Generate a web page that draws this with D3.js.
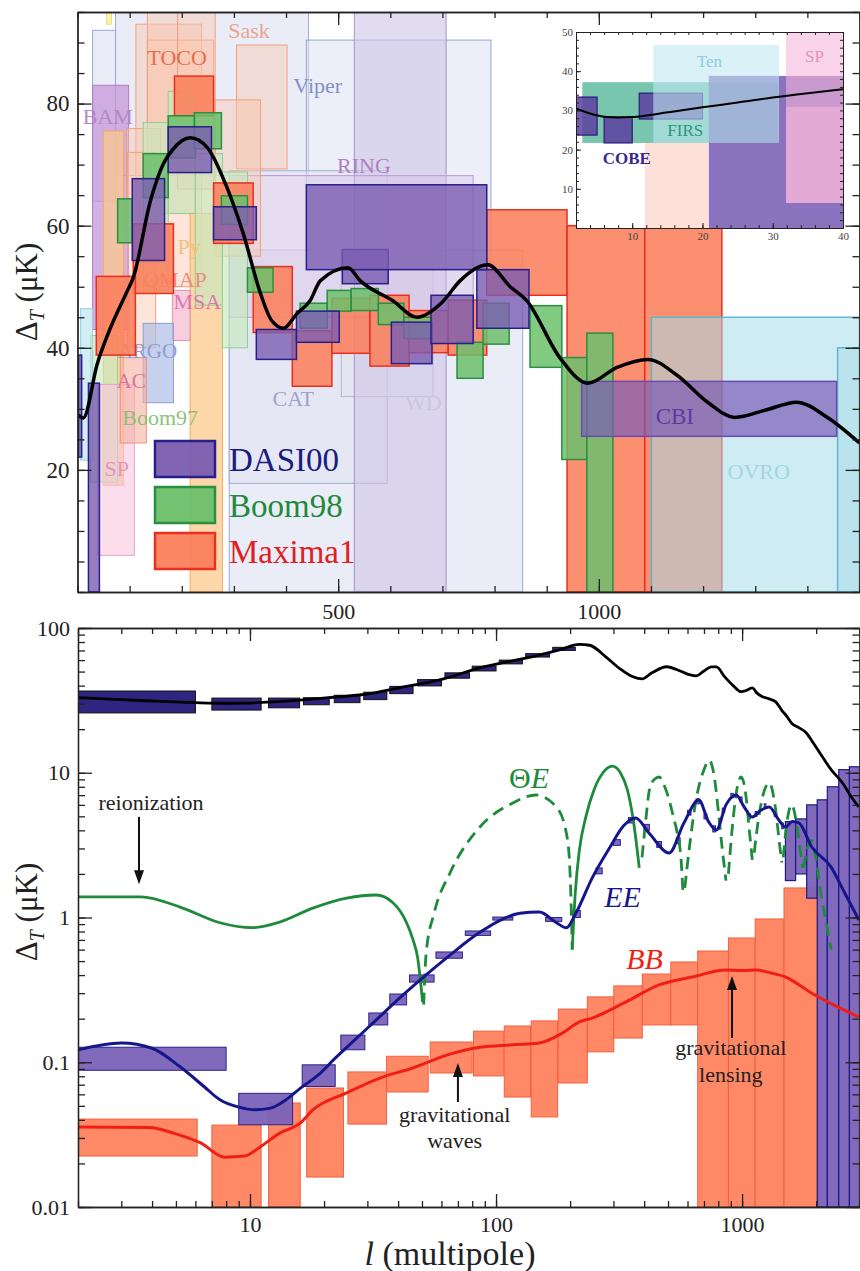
<!DOCTYPE html>
<html>
<head>
<meta charset="utf-8">
<script src="https://cdn.jsdelivr.net/npm/d3@7"></script>
<style>
  body { margin: 0; background: #fff; }
  svg { display: block; }
</style>
</head>
<body>
<svg id="chart" width="860" height="1271"></svg>
<script>
// ---------------- DONNÉES : panneau du haut (l linéaire, ΔT en µK) ----------------

// courbe théorique noire [l, ΔT]
let topCurve = [[2,29],[11,28.5],[38,37.4],[61,42.8],[96,49.4],[107,51.5],[140,64.1],[165,70.2],[184,72.6],
  [216,74.4],[249,72.8],[287,66.2],[318,58.7],[351,48.9],[372,44.5],[395,43.2],[421,45.6],[446,47.7],[466,51],
  [519,53.1],[542,51],[605,47.7],[651,45],[700,47.5],[734,51],[787,53.6],[830,50],[862,47.7],[925,38.4],
  [979,34.2],[1035,36.8],[1094,38.1],[1150,35.5],[1210,31],[1261,28.6],[1320,29.8],[1379,31.1],[1440,28.5],[1500,24.4]];

// boîtes d'erreur [l0, l1, ΔT haut, ΔT bas]
let dasi00Boxes = [[105,167,67.7,54.3],[174,257,76.2,68.7],[261,343,63.1,57.7],[343,420,43,38.1],[420,502,46,40.9],
  [508,596,56.1,50.5],[602,680,44.2,37.4],[678,759,48.6,40.7],[766,866,52.8,43.2],[439,785,66.7,52.8],
  [21,42,34.2,0],[2,8,38.8,22.1]];
let boom98Boxes = [[77,105,64.4,57.2],[126,174,71.8,64.6],[174,226,78,71.1],[224,276,78.5,72.6],[276,326,64.9,60.2],
  [326,375,53.1,49.1],[427,479,47.3,43.2],[479,525,49.4,46],[525,577,49.7,46.1],[577,626,47.3,43.8],
  [626,680,45,41.5],[728,778,40.9,35],[778,828,47.3,40.6],[868,929,46.9,36.8],[929,977,38.4,21.7],[977,1027,42.4,0]];
let maxima1Boxes = [[186,261,84.5,78],[107,184,60.3,48.9],[36,111,51.7,38.8],[261,337,67,57.1],[337,412,53.3,42.5],
  [412,488,42.8,33.7],[488,561,48.1,39.1],[561,636,48.6,37],[636,711,46.1,39.2],[711,785,47.8,38.8],
  [785,939,62.6,48.6],[939,1088,60,0],[1088,1236,60,0]];
let cbiBoxes = [[967,1456,34.5,25.5]];
let ovroBoxes = [[1101,1500,45,0],[1458,1500,40,0]];

// autres expériences en arrière-plan [groupe, l0, l1, ΔT haut, ΔT bas]
let otherBoxes = [
  ["blue",29,73,92,64], ["blue",73,443,95,68.2], ["viper",439,793,90.4,53], ["blue",291,854,56,0],
  ["cat",291,594,69,17.8], ["wd",506,682,56,32], ["lav",531,707,95,0], ["ring",291,759,68.2,45],
  ["bam",29,98,83,43], ["peach",112,238,93,50], ["peach",134,261,90.4,62], ["peach",134,192,95,70],
  ["peach",192,264,95,66], ["peach",305,402,89.6,69.3], ["peach",264,351,80.6,55], ["peach",94,159,75.9,59.2],
  ["peach",96,150,72,40], ["orange",216,278,62,0], ["orange",50,88,75.5,17.5], ["yellow",56,65,95,93],
  ["b97",25,77,42,18], ["b97",126,174,76.9,49.4], ["b97",174,226,82,62], ["b97",226,278,71.8,47],
  ["b97",278,326,68.8,40], ["pink",38,109,34,6], ["msa",182,216,49.4,41.2], ["argo",126,184,44,31],
  ["cyan",6,29,46.4,21.6], ["mac",82,132,38.4,24.4]
];

// noms d'expériences [texte, l, ΔT]
let otherLabels = [["BAM",10,76.7],["TOCO",134,86.3],["Sask",289,90.8],["Viper",414,81.8],["RING",498,68.7],
  ["Py",192,55.4],["QMAP",126,49.9],["MSA",184,46.3],["ARGO",77,38.4],["AC",75,33.4],["SP",52,19],
  ["Boom97",86,27.4],["CAT",374,30.4],["WD",628,29.8],["OVRO",1247,18.5]];
let cbiLabel = ["CBI",1109,27.5];

let legendItems = ["DASI00","Boom98","Maxima1"];

let topXLabels = [500, 1000];
let topYLabels = [20, 40, 60, 80];

// ---------------- DONNÉES : encart (grands angles) ----------------
let insetCurve = [[2,30.5],[4,29.2],[6,28.4],[8,28.2],[10,28.3],[12,28.7],[15,29.5],[20,30.8],[25,32],[30,33.3],[35,34.4],[40,35.4]];
let insetBoxes = [
  ["peach",11.8,20.8,21.7,0], ["firs",2.9,30.7,37.2,21.7],
  ["cobe",2,5,33.4,23.7], ["cobe",6,10,28.3,21.7], ["cobe",11,20,34.4,27.8],
  ["purple",20.9,40,38.8,0], ["ten",13,30.9,46.7,21.7],
  ["sp",31.9,40,50,6.4], ["sp",31.9,40,30.9,6.4]
];
let insetLabels = [["Ten",19.2,41],["SP",34.6,42.3],["FIRS",15,23.5],["COBE",5.8,16.3]];
let insetXLabels = [10, 20, 30, 40];
let insetYLabels = [10, 20, 30, 40, 50];

// ---------------- DONNÉES : panneau du bas (log-log) ----------------
let ttCurve = [[2,33],[3,32],[4,31.3],[6,30.5],[8,30.2],[10,30.3],[13,31],[18,32.3],[23,33.5],[30,35],[40,38.5],
  [59,43.8],[86,53],[120,60],[150,65],[181,70.5],[218,77],[240,76],[280,63],[320,52],[360,46],[392,44.5],
  [430,49],[493,54],[560,50.5],[600,48],[650,46.7],[700,50.5],[750,53.8],[786,53.8],[850,46],[920,40],
  [990,36.3],[1040,37],[1100,38.6],[1150,35.5],[1210,33.5],[1280,32.5],[1370,30.9],[1450,27],[1520,24.5],
  [1590,22],[1700,20.5],[1820,18.9],[1950,16],[2120,12.9],[2300,10.5],[2560,8.5],[2750,7],[2980,5.8]];
let ttBoxes = [[2,6,36.7,25.9],[7,11.1,32.8,27.1],[11.9,15.9,32.8,28.1],[16.5,21,33,29.5],[22,28,34.3,30.5],
  [29,36,36,32],[37,46,39.5,35.2],[48,60,44,39.8],[62,78,49,45],[80,100,54.5,50.5],[103,128,60,56.5],
  [132,165,66.5,63],[170,210,73.5,70]];
let ttHighBoxes = [[1500,1650,4.6,1.8],[1650,1830,4.8,2.0],[1830,2020,6,1.36],[2020,2220,6.5,0.01],
  [2220,2470,8,0.01],[2470,2730,10.5,0.01],[2730,3000,11,0.01]];

let eeCurve = [[2,0.122],[3,0.136],[4,0.125],[5.2,0.093],[6.5,0.068],[7.55,0.055],[9,0.049],[10.5,0.047],
  [12,0.048],[14,0.055],[16,0.066],[19,0.082],[22,0.105],[26,0.137],[33,0.2],[40,0.272],[50,0.38],[65,0.55],
  [85,0.78],[107,0.98],[125,1.07],[150,1.09],[176,0.92],[193,0.85],[211,1.07],[246,1.88],[289,3.02],[330,4.3],
  [369,4.87],[420,3.8],[505,2.79],[580,4.5],[667,6.48],[730,4.6],[786,4.02],[860,6],[946,7.02],[1020,5.8],
  [1100,4.95],[1190,5.5],[1290,5.8],[1400,4.8],[1500,4.22],[1600,4.6],[1700,4.5],[1920,3.07],[2300,2.23],
  [2600,1.5],[2985,0.96]];
let eeBoxes = [[2,8,0.127,0.088],[9,14.9,0.061,0.037],[16.3,22.2,0.096,0.068],[23.4,29.3,0.154,0.122],
  [30.4,36.3,0.219,0.181],[37,43.3,0.296,0.249],[44.5,56,0.401,0.358],[57,73,0.578,0.523],[75,95,0.807,0.752],
  [97,117,1.007,0.96],[159,185,1.0,0.94],[205,220,1.12,1.0],[255,270,2.2,2.0],[300,320,3.45,3.15],
  [345,365,4.9,4.5],[400,420,4.4,4.0],[450,470,3.35,3.05],[540,560,3.55,3.25],[600,620,5.5,5.1],
  [650,670,6.6,6.1],[700,720,5.2,4.8],[760,780,4.3,3.9],[830,850,5.7,5.3],[900,920,7.2,6.7],
  [980,1000,6.8,6.3],[1060,1080,5.2,4.8],[1130,1150,5.4,5.0],[1230,1250,6.1,5.7],[1350,1370,5.4,5.0],
  [1450,1470,4.5,4.1]];

// ΘE : segments positifs (plein) et négatifs (tirets), en valeur absolue
let teSolid = [
  [[2,1.39],[3.6,1.39],[5.2,1.18],[7.55,0.92],[10.2,0.85],[13.2,0.93],[18,1.16],[24.7,1.36],[32.6,1.43],
   [38,1.27],[43.3,0.92],[46,0.7],[48,0.53],[50.3,0.26]],
  [[204,0.6],[210,1.5],[218,2.9],[232,5],[250,7.6],[272,10],[297,11.1],[320,10],[342,7.6],[362,4.6],[382,2.2]]
];
let teDashed = [
  [[50.8,0.25],[52,0.57],[56,1.07],[65,2.03],[86,4.22],[117,6.18],[145,7.02],[176,5.8],[193,3.84],[199,2.38],[202,1.2],[204,0.6]],
  [[392,2.6],[405,4.5],[420,7.6],[440,9],[460,9.35],[485,8],[505,6.5],[525,5],[545,3.84],[565,2.5],[575,1.5]],
  [[585,1.6],[610,3],[650,6.5],[700,10.5],[735,12.2],[770,9.5],[800,5.5],[830,3],[860,1.8]],
  [[880,2],[910,4],[950,7.5],[990,9.35],[1030,7.5],[1070,4],[1100,2.5]],
  [[1120,2.8],[1170,5],[1230,7.5],[1290,8.5],[1360,6],[1420,3.2],[1450,2.4]],
  [[1470,2.6],[1520,4.5],[1590,6],[1660,4.6],[1720,3],[1760,2.2]],
  [[1780,2.2],[1840,3],[1920,3.4],[2000,2.5],[2100,1.4],[2200,0.9],[2300,0.6]]
];

let bbCurve = [[2,0.0357],[3.9,0.0354],[5,0.032],[6.3,0.0277],[7.9,0.0221],[9.5,0.0225],[11,0.026],[13.2,0.0324],
  [16,0.038],[18,0.0468],[24.7,0.0614],[33.7,0.0778],[45.8,0.0912],[63,0.112],[86,0.127],[117,0.132],[150,0.136],
  [186,0.159],[218,0.19],[246,0.202],[337,0.261],[460,0.342],[627,0.388],[860,0.434],[1000,0.43],[1140,0.434],
  [1300,0.415],[1500,0.388],[1920,0.30],[2400,0.245],[2985,0.205]];
let bbBoxes = [[2,6.1,0.0405,0.0225],[7,11.1,0.0368,0.01],[11.9,16,0.0523,0.01],[17,24,0.0664,0.0161],
  [25,35.9,0.0857,0.0374],[35.9,53,0.110,0.0623],[54,80,0.138,0.0843],[81,107,0.164,0.0804],[108,138,0.178,0.0575],
  [139,178,0.193,0.0419],[179,235,0.233,0.0719],[235,301,0.283,0.118],[301,393,0.337,0.147],[393,513,0.407,0.181],
  [513,660,0.493,0.181],[660,880,0.587,0.01],[880,1130,0.722,0.01],[1130,1480,0.977,0.01],[1480,2040,1.6,0.01]];

// annotations : lignes de texte (l, ΔT de base) et flèche [l, ΔT départ, ΔT pointe]
let annotations = [
  { lines: ["reionization"], l: 3.96, T: [5.53], arrow: [3.54, 4.96, 1.70] },
  { lines: ["gravitational", "waves"], l: 67.9, T: [0.0387, 0.0256], arrow: [70, 0.0531, 0.0988] },
  { lines: ["gravitational", "lensing"], l: 900, T: [0.112, 0.0731], arrow: [910, 0.147, 0.394] }
];
let specLabels = [["ΘE", 113, 7.85], ["EE", 275, 1.18], ["BB", 338, 0.44]];

let botXLabels = [10, 100, 1000];
let botYLabels = [0.01, 0.1, 1, 10, 100];


// ---------------- STYLES ----------------
let FONT = "'Liberation Serif', 'Times New Roman', serif";

let STYLE_AUTRES = {
  blue:   { fill: "#d9dff2", stroke: "#9aaad8", op: 0.55 },
  viper:  { fill: "#dde2f3", stroke: "#93a5d6", op: 0.55 },
  cat:    { fill: "#dfe2f0", stroke: "#a4acd0", op: 0.45 },
  wd:     { fill: "#e2e2ee", stroke: "#b6b6cc", op: 0.4 },
  lav:    { fill: "#cfc4e6", stroke: "#a393cb", op: 0.6 },
  ring:   { fill: "#dac4e6", stroke: "#c09ad4", op: 0.45 },
  bam:    { fill: "#c697d8", stroke: "#b27ac8", op: 0.75 },
  peach:  { fill: "#fbc6ad", stroke: "#f2a07e", op: 0.45 },
  orange: { fill: "#fcc98c", stroke: "#f4ab5e", op: 0.75 },
  yellow: { fill: "#f7f0a0", stroke: "#e8dc70", op: 0.8 },
  b97:    { fill: "#c6eabf", stroke: "#8fcf8f", op: 0.65 },
  pink:   { fill: "#f8c6e0", stroke: "#eaa0cc", op: 0.6 },
  msa:    { fill: "#f4aec4", stroke: "#e890b0", op: 0.6 },
  argo:   { fill: "#aebde6", stroke: "#8b9dd6", op: 0.7 },
  cyan:   { fill: "#bfe6f0", stroke: "#8fd0e2", op: 0.7 },
  mac:    { fill: "#f6b0a0", stroke: "#ee9080", op: 0.6 }
};

let LABEL_COLORS = {
  BAM: "#b585c6", TOCO: "#e8684a", Sask: "#f0a088", Viper: "#7c8cc4", RING: "#b07cc0", Py: "#f0c078",
  QMAP: "#e88a80", MSA: "#e070b0", ARGO: "#8c9cd0", AC: "#d8709c", SP: "#e890c0", Boom97: "#88c070",
  CAT: "#9aa0c8", WD: "#c8c8dc", CBI: "#5a3aa0", OVRO: "#88ccdc",
  Ten: "#88d0e0", FIRS: "#2a9878", COBE: "#3a2a90"
};

let SERIES = {
  DASI00:  { fill: "#7a5cb0", stroke: "#28208a", text: "#1a1a80" },
  Boom98:  { fill: "#6cc06c", stroke: "#2a9040", text: "#1e8a3a" },
  Maxima1: { fill: "#fa7f5c", stroke: "#e83020", text: "#e02020" }
};

let STYLE_ENCART = {
  peach:  { fill: "#fcd3c6", stroke: "none", op: 0.7 },
  firs:   { fill: "#3fae8c", stroke: "none", op: 0.7 },
  cobe:   { fill: "#5c3fa0", stroke: "#2a1a7a", op: 0.85 },
  purple: { fill: "#6e4fae", stroke: "none", op: 0.8 },
  ten:    { fill: "#bfe7f1", stroke: "none", op: 0.6 },
  sp:     { fill: "#f5b5da", stroke: "none", op: 0.6 }
};


// ---------------- OUTILS ----------------
let svg = d3.select("#chart");
let defs = svg.append("defs");

// dessine des boîtes [l0,l1,haut,bas]
function drawBoxes(g, data, x, y, fill, stroke, op, sw) {
  g.append("g").selectAll("rect").data(data).join("rect")
    .attr("x", d => x(d[0]))
    .attr("width", d => x(d[1]) - x(d[0]))
    .attr("y", d => y(Math.max(d[2], d[3])))
    .attr("height", d => Math.abs(y(d[3]) - y(d[2])))
    .attr("fill", fill)
    .attr("fill-opacity", op)
    .attr("stroke", stroke)
    .attr("stroke-width", sw);
}

// axe avec graduations vers l'intérieur
function drawAxis(g, axisFn, scale, values, size, withLabels, fontSize, pos) {
  let ax = axisFn(scale)
    .tickValues(values)
    .tickSizeInner(-size)
    .tickSizeOuter(0)
    .tickPadding(withLabels ? withLabels.pad : 0)
    .tickFormat(withLabels ? (d => String(d)) : () => "");
  let sel = g.append("g").attr("transform", pos).call(ax);
  sel.attr("font-family", FONT).attr("font-size", fontSize);
  sel.select(".domain").attr("stroke", "#222").attr("stroke-width", 1.3);
  sel.selectAll(".tick line").attr("stroke", "#222").attr("stroke-width", 1.3);
  sel.selectAll(".tick text").attr("fill", "#222");
  return sel;
}

function addClip(id, x0, y0, x1, y1) {
  defs.append("clipPath").attr("id", id).append("rect")
    .attr("x", x0).attr("y", y0).attr("width", x1 - x0).attr("height", y1 - y0);
}


// ================= PANNEAU DU HAUT =================
let xTop = d3.scaleLinear().domain([0, 1500]).range([77.5, 859.5]);
let yTop = d3.scaleLinear().domain([0, 95]).range([592, 12]);
addClip("clipTop", 77.5, 12, 859.5, 592);

let gTop = svg.append("g").attr("clip-path", "url(#clipTop)");

// arrière-plan : autres expériences
otherBoxes.forEach(b => {
  let st = STYLE_AUTRES[b[0]];
  drawBoxes(gTop, [b.slice(1)], xTop, yTop, st.fill, st.stroke, st.op, 1);
});

gTop.append("g").selectAll("text").data(otherLabels).join("text")
  .attr("x", d => xTop(d[1]))
  .attr("y", d => yTop(d[2]))
  .attr("font-family", FONT)
  .attr("font-size", d => (d[0] === "ARGO" || d[0] === "AC") ? 21 : 22)
  .attr("fill", d => LABEL_COLORS[d[0]])
  .attr("opacity", 0.95)
  .text(d => d[0]);

// séries principales
drawBoxes(gTop, maxima1Boxes, xTop, yTop, SERIES.Maxima1.fill, SERIES.Maxima1.stroke, 0.88, 1.5);
drawBoxes(gTop, ovroBoxes, xTop, yTop, "#a9dcea", "#5cb8d2", 0.55, 1.5);
drawBoxes(gTop, boom98Boxes, xTop, yTop, SERIES.Boom98.fill, SERIES.Boom98.stroke, 0.85, 1.5);
drawBoxes(gTop, dasi00Boxes, xTop, yTop, SERIES.DASI00.fill, SERIES.DASI00.stroke, 0.8, 1.5);
drawBoxes(gTop, cbiBoxes, xTop, yTop, "#7a5cb8", "#6a4cb0", 0.7, 1.5);

// label CBI au dessus de sa boîte
gTop.append("text").attr("x", xTop(cbiLabel[1])).attr("y", yTop(cbiLabel[2]))
  .attr("font-family", FONT).attr("font-size", 23).attr("fill", LABEL_COLORS.CBI).text(cbiLabel[0]);

// courbe théorique
gTop.append("path").datum(topCurve)
  .attr("fill", "none").attr("stroke", "#000").attr("stroke-width", 3.5)
  .attr("d", d3.line().x(d => xTop(d[0])).y(d => yTop(d[1])).curve(d3.curveMonotoneX));

// légende
let leg = gTop.append("g");
legendItems.forEach((name, i) => {
  let y0 = 441 + i * 46;
  leg.append("rect").attr("x", 155).attr("y", y0).attr("width", 60).attr("height", 36)
    .attr("fill", SERIES[name].fill).attr("fill-opacity", 0.95)
    .attr("stroke", SERIES[name].stroke).attr("stroke-width", 2.5);
  leg.append("text").attr("x", 229).attr("y", y0 + 30)
    .attr("font-family", FONT).attr("font-size", 33).attr("fill", SERIES[name].text).text(name);
});

// axes du haut
let gTopAx = svg.append("g");
drawAxis(gTopAx, d3.axisBottom, xTop, xTop.ticks(15), 6, null, 22, "translate(0,592)");
drawAxis(gTopAx, d3.axisBottom, xTop, topXLabels, 13, { pad: 11 }, 22, "translate(0,592)");
drawAxis(gTopAx, d3.axisTop, xTop, xTop.ticks(15), 6, null, 22, "translate(0,12)");
drawAxis(gTopAx, d3.axisTop, xTop, topXLabels, 13, null, 22, "translate(0,12)");
drawAxis(gTopAx, d3.axisLeft, yTop, yTop.ticks(19), 7, null, 23, "translate(77.5,0)");
drawAxis(gTopAx, d3.axisLeft, yTop, topYLabels, 14, { pad: 8 }, 23, "translate(77.5,0)");
drawAxis(gTopAx, d3.axisRight, yTop, yTop.ticks(19), 7, null, 23, "translate(859.5,0)");
drawAxis(gTopAx, d3.axisRight, yTop, topYLabels, 14, null, 23, "translate(859.5,0)");

// ================= ENCART =================
let xIn = d3.scaleLinear().domain([2, 40]).range([576, 843]);
let yIn = d3.scaleLinear().domain([0, 50]).range([228, 32]);
addClip("clipIn", 576, 32, 843, 228);

let gIn = svg.append("g");
gIn.append("rect").attr("x", 576).attr("y", 32).attr("width", 267).attr("height", 196).attr("fill", "#fff");
let gInPlot = gIn.append("g").attr("clip-path", "url(#clipIn)");
insetBoxes.forEach(b => {
  let st = STYLE_ENCART[b[0]];
  drawBoxes(gInPlot, [b.slice(1)], xIn, yIn, st.fill, st.stroke, st.op, 1.2);
});
gInPlot.append("path").datum(insetCurve)
  .attr("fill", "none").attr("stroke", "#000").attr("stroke-width", 2)
  .attr("d", d3.line().x(d => xIn(d[0])).y(d => yIn(d[1])).curve(d3.curveMonotoneX));
gInPlot.append("g").selectAll("text").data(insetLabels).join("text")
  .attr("x", d => xIn(d[1])).attr("y", d => yIn(d[2]))
  .attr("font-family", FONT).attr("font-size", 17)
  .attr("font-weight", d => d[0] === "COBE" ? "bold" : "normal")
  .attr("fill", d => LABEL_COLORS[d[0]]).text(d => d[0]);

drawAxis(gIn, d3.axisBottom, xIn, xIn.ticks(19), 3, null, 11, "translate(0,228)");
drawAxis(gIn, d3.axisBottom, xIn, insetXLabels, 5, { pad: 4 }, 11, "translate(0,228)");
drawAxis(gIn, d3.axisTop, xIn, xIn.ticks(19), 3, null, 11, "translate(0,32)");
drawAxis(gIn, d3.axisLeft, yIn, yIn.ticks(25), 3, null, 11, "translate(576,0)");
drawAxis(gIn, d3.axisLeft, yIn, insetYLabels, 5, { pad: 3 }, 11, "translate(576,0)");
drawAxis(gIn, d3.axisRight, yIn, yIn.ticks(25), 3, null, 11, "translate(843,0)");
gIn.selectAll(".domain").attr("stroke-width", 1);
gIn.selectAll(".tick line").attr("stroke-width", 1);
gIn.selectAll(".tick text").attr("fill", "#444");


// ================= PANNEAU DU BAS =================
let xBot = d3.scaleLog().domain([2, 3000]).range([78, 859.5]);
let yBot = d3.scaleLog().domain([0.01, 100]).range([1207, 628]);
addClip("clipBot", 78, 628, 859.5, 1207);

let gBot = svg.append("g").attr("clip-path", "url(#clipBot)");
let lineBot = d3.line().x(d => xBot(d[0])).y(d => yBot(d[1])).curve(d3.curveMonotoneX);

drawBoxes(gBot, bbBoxes, xBot, yBot, "#ff7f5a", "#f2603e", 0.92, 1);
drawBoxes(gBot, ttBoxes, xBot, yBot, "#2f2580", "#111", 1, 1);
drawBoxes(gBot, eeBoxes, xBot, yBot, "#7a62b8", "#2a2290", 0.95, 1);
drawBoxes(gBot, ttHighBoxes, xBot, yBot, "#7a62b8", "#1e1a80", 0.95, 1.2);

// ΘE
teSolid.forEach(seg => {
  gBot.append("path").datum(seg).attr("fill", "none").attr("stroke", "#1e8a3c")
    .attr("stroke-width", 2.8).attr("d", lineBot);
});
teDashed.forEach(seg => {
  gBot.append("path").datum(seg).attr("fill", "none").attr("stroke", "#1e8a3c")
    .attr("stroke-width", 2.8).attr("stroke-dasharray", "12,7").attr("d", lineBot);
});

gBot.append("path").datum(ttCurve).attr("fill", "none").attr("stroke", "#000").attr("stroke-width", 2.8).attr("d", lineBot);
gBot.append("path").datum(eeCurve).attr("fill", "none").attr("stroke", "#16168c").attr("stroke-width", 3).attr("d", lineBot);
gBot.append("path").datum(bbCurve).attr("fill", "none").attr("stroke", "#f01e14").attr("stroke-width", 3).attr("d", lineBot);

// étiquettes des spectres
let specColors = { "ΘE": "#1e8a3c", "EE": "#16168c", "BB": "#f01e14" };
specLabels.forEach(s => {
  let t = gBot.append("text").attr("x", xBot(s[1])).attr("y", yBot(s[2]))
    .attr("font-family", FONT).attr("font-size", 30).attr("fill", specColors[s[0]]);
  if (s[0] === "ΘE") {
    t.append("tspan").text("Θ");
    t.append("tspan").attr("font-style", "italic").text("E");
  } else {
    t.attr("font-style", "italic").text(s[0]);
  }
});

// annotations + flèches
annotations.forEach(a => {
  let t = gBot.append("text").attr("text-anchor", "middle")
    .attr("font-family", FONT).attr("font-size", 22).attr("fill", "#222");
  a.lines.forEach((ln, i) => {
    t.append("tspan").attr("x", xBot(a.l)).attr("y", yBot(a.T[i])).text(ln);
  });
  let ax = xBot(a.arrow[0]), y0 = yBot(a.arrow[1]), y1 = yBot(a.arrow[2]);
  let dir = y1 > y0 ? 1 : -1;
  gBot.append("line").attr("x1", ax).attr("x2", ax).attr("y1", y0).attr("y2", y1 - dir * 10)
    .attr("stroke", "#111").attr("stroke-width", 2);
  gBot.append("path")
    .attr("d", `M${ax},${y1} L${ax - 5},${y1 - dir * 14} L${ax + 5},${y1 - dir * 14} Z`)
    .attr("fill", "#111");
});

// axes du bas
let gBotAx = svg.append("g");
drawAxis(gBotAx, d3.axisBottom, xBot, xBot.ticks(), 6, null, 22, "translate(0,1207)");
drawAxis(gBotAx, d3.axisBottom, xBot, botXLabels, 13, { pad: 9 }, 22, "translate(0,1207)");
drawAxis(gBotAx, d3.axisTop, xBot, xBot.ticks(), 6, null, 22, "translate(0,628)");
drawAxis(gBotAx, d3.axisTop, xBot, botXLabels, 13, null, 22, "translate(0,628)");
drawAxis(gBotAx, d3.axisLeft, yBot, yBot.ticks(), 7, null, 22, "translate(78,0)");
drawAxis(gBotAx, d3.axisLeft, yBot, botYLabels, 14, { pad: 8 }, 22, "translate(78,0)");
drawAxis(gBotAx, d3.axisRight, yBot, yBot.ticks(), 7, null, 22, "translate(859.5,0)");
drawAxis(gBotAx, d3.axisRight, yBot, botYLabels, 14, null, 22, "translate(859.5,0)");


// ================= TITRES D'AXES =================
function yTitle(cy) {
  let t = svg.append("text").attr("transform", `translate(37,${cy}) rotate(-90)`)
    .attr("text-anchor", "middle").attr("font-family", FONT).attr("font-size", 31).attr("fill", "#222");
  t.append("tspan").text("Δ");
  t.append("tspan").attr("font-style", "italic").attr("font-size", 20).attr("dy", 7).text("T");
  t.append("tspan").attr("dy", -7).text(" (μK)");
}
yTitle(292);
yTitle(912);

let xt = svg.append("text").attr("x", 450).attr("y", 1265).attr("text-anchor", "middle")
  .attr("font-family", FONT).attr("font-size", 34).attr("fill", "#222");
xt.append("tspan").attr("font-style", "italic").text("l");
xt.append("tspan").text(" (multipole)");
</script>
</body>
</html>
